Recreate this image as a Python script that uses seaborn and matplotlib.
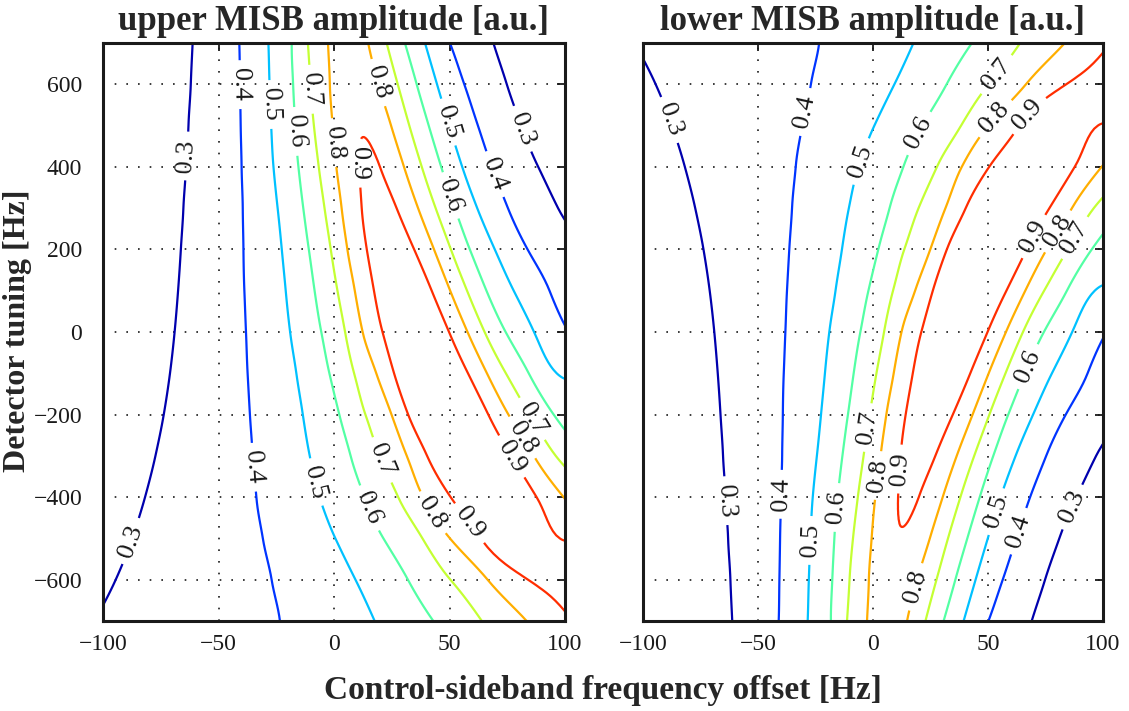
import numpy as np
import matplotlib
matplotlib.use("Agg")
import matplotlib.pyplot as plt
import matplotlib.tri as mtri
import seaborn as sns

nan = np.nan

# ---------------- data ----------------
# detector-tuning rows [Hz] at which the contour crossings were read (upper panel)
tuning_rows = [700, 600, 500, 400, 300, 200, 100, 0, -100, -200, -300, -400, -500, -600, -700]
levels = [0.3, 0.4, 0.5, 0.6, 0.7, 0.8, 0.9]

# control-sideband offset [Hz] where each level is crossed on the rising (left) flank
rising_x = [
    [-61.2, -62.0, -63.0, -64.1, -65.2, -66.3, -67.5, -69.0, -71.0, -73.7, -77.3, -81.8, -87.4, -94.5, nan],
    [-41.0, -40.7, -40.4, -40.0, -39.5, -39.2, -38.8, -38.1, -37.4, -36.4, -35.2, -33.6, -30.8, -27.0, -23.4],
    [-28.4, -27.9, -27.2, -26.2, -24.4, -22.6, -20.9, -19.0, -16.3, -13.5, -10.5, -6.3, 0.6, 9.3, 17.6],
    [-18.3, -17.7, -16.8, -15.4, -13.3, -10.9, -8.4, -5.5, -2.0, 2.3, 7.2, 13.2, 21.4, 32.0, 43.0],
    [-11.3, -10.2, -8.7, -6.6, -4.1, -1.4, 1.5, 4.8, 8.7, 13.6, 19.8, 27.8, 38.3, 50.4, 64.0],
    [-2.6, -1.8, -0.6, 1.0, 3.3, 5.8, 9.0, 12.4, 18.3, 24.9, 31.5, 38.6, 50.2, 66.5, 83.4],
    [nan, nan, nan, 10.9, 12.0, 14.2, 17.3, 21.0, 26.0, 32.1, 40.3, 50.5, 63.6, 84.0, nan],
]
# ... and on the falling (right) flank
falling_x = [
    [69.0, 74.8, 81.0, 88.4, 97.0, nan, nan, nan, nan, nan, nan, nan, nan, nan, nan],
    [50.2, 56.4, 62.3, 68.3, 75.3, 83.8, 93.3, nan, nan, nan, nan, nan, nan, nan, nan],
    [39.4, 44.6, 49.9, 55.5, 62.0, 69.6, 77.8, 86.6, 96.4, nan, nan, nan, nan, nan, nan],
    [30.7, 35.8, 41.0, 46.4, 52.3, 58.8, 66.0, 74.3, 84.3, 95.1, nan, nan, nan, nan, nan],
    [22.8, 27.6, 32.6, 38.0, 44.0, 50.6, 57.6, 65.2, 74.4, 84.7, 96.0, nan, nan, nan, nan],
    [14.8, 19.2, 24.7, 30.3, 36.4, 43.3, 50.3, 57.8, 66.2, 75.5, 86.5, nan, nan, nan, nan],
    [nan, nan, nan, 19.9, 27.1, 34.7, 42.3, 49.8, 58.0, 66.8, 76.7, 87.7, 97.8, nan, nan],
]
# ridge crest (position and amplitude) per row
crest_x = [6.1, 8.7, 12.0, 15.4, 19.6, 24.5, 29.8, 35.4, 42.0, 49.5, 58.5, 69.1, 80.7, nan, nan]
crest_amp = [0.845, 0.87, 0.895, 0.912, 0.925, 0.935, 0.945, 0.95, 0.955, 0.96, 0.965, 0.97, 0.975, nan, nan]
# amplitude on the left (-100 Hz) and right (+100 Hz) borders per row
edge_left_amp = [0.156, 0.164, 0.177, 0.189, 0.199, 0.208, 0.216, 0.222, 0.233, 0.245, 0.257, 0.271, 0.282, 0.292, 0.305]
edge_right_amp = [0.215, 0.23, 0.245, 0.265, 0.288, 0.33, 0.36, 0.41, 0.49, 0.567, 0.666, 0.795, 0.895, 0.935, 0.885]

x_ticks = [-100, -50, 0, 50, 100]
y_ticks = [-600, -400, -200, 0, 200, 400, 600]
titles = ["upper MISB amplitude [a.u.]", "lower MISB amplitude [a.u.]"]
x_label = "Control-sideband frequency offset [Hz]"
y_label = "Detector tuning [Hz]"

# where the contour labels sit (layout)
upper_label_xy = [(-63, 426), (-42, 599), (-27.7, 551), (-16.1, 486), (-9.7, 588), (-1.3, 458),
                  (10.5, 409), (18.5, 603), (48, 506), (69, 381), (80.5, 490), (49.5, 329),
                  (-86.1, -510), (-35.6, -328), (-8.2, -364), (14.2, -429), (19.9, -312),
                  (41.6, -441), (58.1, -465), (85.6, -211), (79.1, -264), (76.2, -304)]
lower_label_xy = [(-88.3, 514), (-30.3, 534), (-5.7, 414), (53, 627), (19.7, 482), (53, 518),
                  (68.3, 522), (69.7, 232), (79.1, 248), (87.8, 228), (-65.8, -409), (-41.2, -393),
                  (-26.7, -505), (-15.8, -425), (-2.7, -231), (0.1, -346), (11.7, -332), (19, -618),
                  (52.3, -433), (62.5, -481), (87.1, -425), (68.3, -86)]

# ---------------- iso-points of the field, ordered along each row ----------------
px, py, pz, rows_pts = [], [], [], []
for j, yv in enumerate(tuning_rows):
    pts = []  # (order key, x, value)
    pts.append((edge_left_amp[j], -100.0, edge_left_amp[j]))
    for i, lev in enumerate(levels):
        if np.isfinite(rising_x[i][j]):
            pts.append((lev, rising_x[i][j], lev))
    past_crest = np.isfinite(crest_x[j])
    if past_crest:
        pts.append((1.0, crest_x[j], crest_amp[j]))
    for i, lev in enumerate(levels):
        if np.isfinite(falling_x[i][j]):
            pts.append((2.0 - lev, falling_x[i][j], lev))
            past_crest = True
    er = edge_right_amp[j]
    pts.append(((2.0 - er) if past_crest else er, 100.0, er))
    pts.sort(key=lambda p: p[0])
    idx = []
    for k, xv, zv in pts:
        idx.append((k, len(px)))
        px.append(xv); py.append(yv); pz.append(zv)
    rows_pts.append(idx)

# join neighbouring rows so that equal levels are connected
triangles = []
for A, B in zip(rows_pts[:-1], rows_pts[1:]):
    i = j = 0
    while i < len(A) - 1 or j < len(B) - 1:
        if i < len(A) - 1 and (j >= len(B) - 1 or A[i + 1][0] <= B[j + 1][0]):
            triangles.append((A[i][1], B[j][1], A[i + 1][1])); i += 1
        else:
            triangles.append((A[i][1], B[j][1], B[j + 1][1])); j += 1

px = np.array(px, float); py = np.array(py, float); pz = np.array(pz, float)
s = 0.18  # visual aspect of a panel (tuning Hz -> offset Hz)
tri_s = mtri.Triangulation(px, py * s, np.array(triangles))
tri_f, z_f = mtri.UniformTriRefiner(tri_s).refine_field(pz, subdiv=3)
tri_upper = mtri.Triangulation(tri_f.x, tri_f.y / s, tri_f.triangles)
tri_lower = mtri.Triangulation(tri_f.x, -tri_f.y / s, tri_f.triangles)  # lower MISB: mirrored tuning

# ---------------- plotting ----------------
sns.set_theme(style="white")
plt.rcParams['font.family'] = ['Liberation Serif', 'DejaVu Serif']

fig = plt.figure(figsize=(11.29, 7.11), dpi=100)
ax1 = fig.add_axes([103 / 1129, 90 / 711, 462 / 1129, 578 / 711])
ax2 = fig.add_axes([643 / 1129, 90 / 711, 460 / 1129, 578 / 711])

norm = plt.Normalize(0.27, 1.0)
for ax, tri, lab_xy, title in ((ax1, tri_upper, upper_label_xy, titles[0]),
                               (ax2, tri_lower, lower_label_xy, titles[1])):
    cs = ax.tricontour(tri, z_f, levels=levels, cmap='jet', norm=norm, linewidths=1.6)
    ax.clabel(cs, manual=lab_xy, inline=True, fmt='%.1f', fontsize=19, colors='k',
              inline_spacing=8)
    ax.set_xlim(-100, 100)
    ax.set_ylim(-700, 700)
    ax.set_xticks(x_ticks)
    ax.set_yticks(y_ticks)
    ax.grid(True, color='k', linestyle=(0, (1, 6)), linewidth=1.2)
    ax.tick_params(direction='in', top=True, right=True, length=6, width=1.3,
                   labelsize=17, colors='k')
    ax.tick_params(axis='x', pad=9)
    ax.tick_params(axis='y', pad=15)
    for sp in ax.spines.values():
        sp.set_linewidth(2.2)
        sp.set_color('k')
    ax.set_title(title, fontsize=25, fontweight='bold', pad=9)

ax2.tick_params(labelleft=False)

fig.text(603 / 1129, 1 - 690 / 711, x_label, ha='center', va='center', fontsize=24, fontweight='bold')
fig.text(18 / 1129, 1 - 331 / 711, y_label, ha='center', va='center', rotation=90,
         fontsize=23, fontweight='bold')

fig.savefig("out.png", dpi=100)
